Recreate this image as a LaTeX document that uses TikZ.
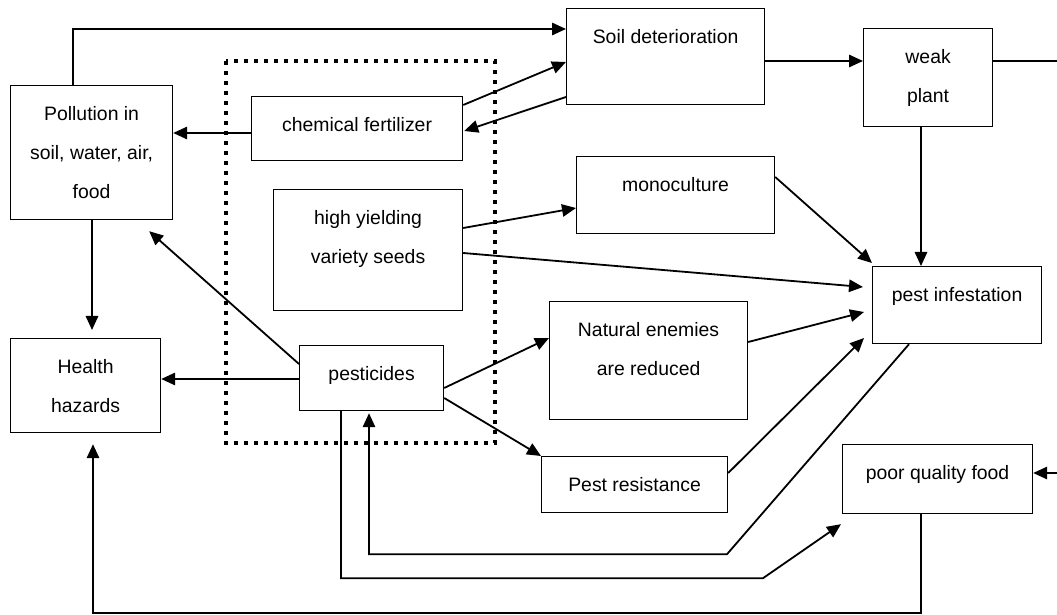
\documentclass[tikz,border=0pt]{standalone}
\usepackage{fontspec}
\setmainfont{Liberation Sans}
\usepackage{tikz}
\usetikzlibrary{calc, arrows.meta}
\newcommand{\bxtext}[3]{\parbox[c][#2][t]{#1}{\centering\rule{0pt}{17.5pt}#3}}

\begin{document}
\begin{tikzpicture}[
    x = 0.5pt, y = -0.5pt,
    box/.style = {draw, line width = 0.6pt, inner sep = 0pt, anchor = north west, font = \fontsize{9.7}{19.5}\selectfont},
    arr/.style = {-{Triangle[length = 7pt, width = 6.2pt]}, line width = 0.9pt},
    dotbox/.style = {line width = 2.2pt, dash pattern = on 2.2pt off 2.8pt}
]
\useasboundingbox (0,0) rectangle (1057,615);

\node[box] (poll) at (10,85) {\bxtext{81pt}{67pt}{Pollution in\\soil, water, air,\\food}};
\node[box] (chem) at (251,96) {\bxtext{105.5pt}{32pt}{chemical fertilizer}};
\node[box] (hyv) at (273,189) {\bxtext{94.5pt}{60.5pt}{high yielding\\variety seeds}};
\node[box] (soil) at (566,8) {\bxtext{99pt}{48pt}{Soil deterioration}};
\node[box] (weak) at (863,28) {\bxtext{64.5pt}{49pt}{weak\\plant}};
\node[box] (mono) at (576,156) {\bxtext{99pt}{38.5pt}{monoculture}};
\node[box] (pest) at (872,266) {\bxtext{84.5pt}{38.5pt}{pest infestation}};
\node[box] (enem) at (549,301) {\bxtext{99pt}{59pt}{Natural enemies\\are reduced}};
\node[box] (health) at (10,338) {\bxtext{75pt}{47pt}{Health\\hazards}};
\node[box] (pesti) at (299,345) {\bxtext{72pt}{32.5pt}{pesticides}};
\node[box] (resist) at (541,456) {\bxtext{93pt}{28pt}{Pest resistance}};
\node[box] (poor) at (842,444) {\bxtext{95pt}{34.5pt}{poor quality food}};

\draw[dotbox] (226,61) rectangle (495,443);

\coordinate (edgetop) at (1057,61);
\coordinate (edgeright) at (1057,473);

\draw[arr] ($(poll.north west)+(63,0)$) |- ($(soil.north west)+(0,21)$);
\draw[arr] ($(chem.north east)+(0,9)$) -- ($(soil.north west)+(0,54)$);
\draw[arr] ($(soil.north west)+(0,89)$) -- ($(chem.north east)+(1,35)$);
\draw[arr] ($(chem.north west)+(0,37)$) -- ($(poll.north east)+(0,48)$);
\draw[arr] ($(soil.north east)+(0,53)$) -- ($(weak.north west)+(0,33)$);
\draw[line width = 0.9pt] ($(weak.north east)+(0,33)$) -- (edgetop);
\draw[arr] ($(weak.south west)+(58,0)$) -- ($(pest.north west)+(49,0)$);
\draw[arr] ($(hyv.north east)+(0,39)$) -- ($(mono.north west)+(0,52)$);
\draw[arr] ($(hyv.north east)+(0,64)$) -- ($(pest.north west)+(-9,21)$);
\draw[arr] ($(mono.north east)+(0,21)$) -- ($(pest.north west)+(0,-3)$);
\draw[arr] ($(enem.north east)+(0,41)$) -- ($(pest.north west)+(-8,46)$);
\draw[arr] ($(resist.north east)+(0,17)$) -- ($(pest.north west)+(-8,72)$);
\draw[arr] ($(pest.south west)+(37,0)$) -- ++(-182,210) -| ($(pesti.south west)+(70,2)$);
\draw[arr] ($(pesti.south west)+(42,0)$) |- ++(422,167) -- ($(poor.south west)+(-1,10)$);
\draw[arr] ($(poor.south west)+(79,0)$) -- ++(0,99) -| ($(health.south west)+(83,11)$);
\draw[arr] (edgeright) -- ($(poor.north east)+(0,29)$);
\draw[arr] ($(pesti.north west)+(0,19)$) -- ($(poll.south east)+(-24,11)$);
\draw[arr] ($(pesti.north west)+(0,34)$) -- ($(health.north east)+(0,41)$);
\draw[arr] ($(pesti.north east)+(0,43)$) -- ($(enem.north west)+(0,37)$);
\draw[arr] ($(pesti.north east)+(0,53)$) -- (resist.north west);
\draw[arr] ($(poll.south west)+(82,0)$) -- ($(health.north west)+(82,-8)$);
\end{tikzpicture}
\end{document}
